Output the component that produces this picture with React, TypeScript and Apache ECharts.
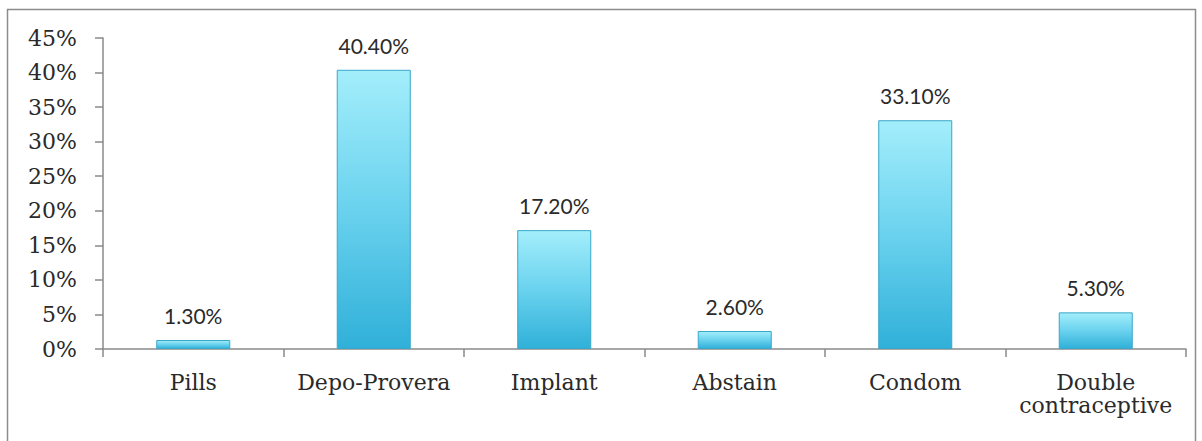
import React, { useEffect, useRef } from "react";
import * as echarts from "echarts";

const categories = ["Pills", "Depo-Provera", "Implant", "Abstain", "Condom", "Double\ncontraceptive"];
const values = [1.3, 40.4, 17.2, 2.6, 33.1, 5.3];
const yTicks = [0, 5, 10, 15, 20, 25, 30, 35, 40, 45];

export default function App() {
  const ref = useRef<HTMLDivElement>(null);
  useEffect(() => {
    const chart = echarts.init(ref.current!, null, { renderer: "svg" });
    chart.setOption({
      animation: false,
      backgroundColor: "#ffffff",
      graphic: [
        {
          type: "rect",
          shape: { x: 7.5, y: 9.5, width: 1188, height: 440 },
          style: { fill: "none", stroke: "#8c8c8c", lineWidth: 1.5 },
          silent: true,
        },
      ],
      grid: { left: 103, right: 16, top: 38, bottom: 92 },
      xAxis: {
        type: "category",
        data: categories,
        axisLine: { lineStyle: { color: "#8a8a8a", width: 1.5 } },
        axisTick: { show: true, length: 8, alignWithLabel: false, lineStyle: { color: "#8a8a8a", width: 1.5 } },
        axisLabel: {
          color: "#2a2a2a",
          fontFamily: "DejaVu Serif",
          fontSize: 22,
          margin: 22,
          lineHeight: 23,
          interval: 0,
        },
      },
      yAxis: {
        type: "value",
        min: yTicks[0],
        max: yTicks[yTicks.length - 1],
        interval: 5,
        splitLine: { show: false },
        axisLine: { show: true, lineStyle: { color: "#8a8a8a", width: 1.5 } },
        axisTick: { show: true, length: 8, lineStyle: { color: "#8a8a8a", width: 1.5 } },
        axisLabel: {
          color: "#2a2a2a",
          fontFamily: "DejaVu Serif",
          fontSize: 22,
          margin: 26,
          formatter: (v: number) => v + "%",
        },
      },
      series: [
        {
          type: "bar",
          data: values,
          barWidth: "41%",
          itemStyle: {
            color: new echarts.graphic.LinearGradient(0, 0, 0, 1, [
              { offset: 0, color: "#a3eefb" },
              { offset: 0.5, color: "#6ad2ee" },
              { offset: 1, color: "#30b0d9" },
            ]),
            borderColor: "#3aa7c8",
            borderWidth: 1,
          },
          label: {
            show: true,
            position: "top",
            distance: 14,
            color: "#2a2a2a",
            fontFamily: "Lato",
            fontSize: 21,
            formatter: (p: any) => p.value.toFixed(2) + "%",
          },
        },
      ],
    });
    return () => chart.dispose();
  }, []);
  return <div ref={ref} style={{ position: "fixed", left: 0, top: 0, width: 1202, height: 441 }} />;
}
